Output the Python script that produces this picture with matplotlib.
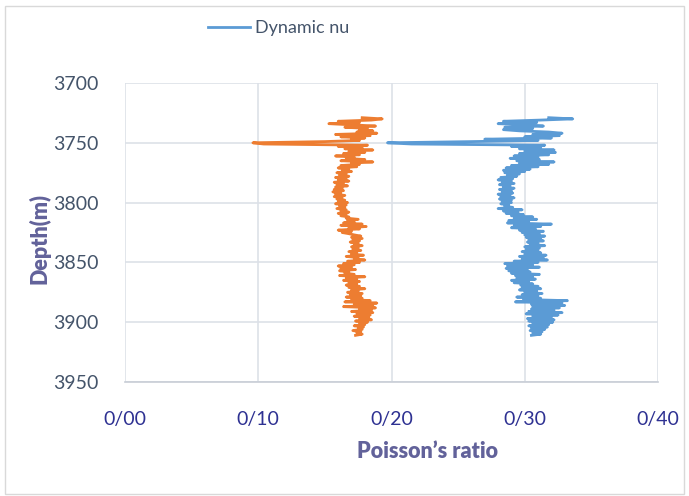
import numpy as np
import matplotlib
matplotlib.use("Agg")
import matplotlib.pyplot as plt
from matplotlib.patches import Rectangle

plt.rcParams['font.family'] = ['Lato', 'DejaVu Sans']

# Depth samples (m), one per metre
depth = np.arange(3729, 3912)

# Static Poisson's ratio (orange trace)
static_nu = [
    0.178, 0.193, 0.185, 0.160, 0.176, 0.153, 0.170, 0.188, 0.165, 0.182,
    0.176, 0.186, 0.174, 0.189, 0.158, 0.184, 0.162, 0.180, 0.170, 0.176,
    0.150, 0.096, 0.104, 0.182, 0.160, 0.178, 0.165, 0.186, 0.168, 0.180,
    0.164, 0.176, 0.158, 0.172, 0.166, 0.180, 0.162, 0.186, 0.170, 0.176,
    0.162, 0.174, 0.160, 0.168, 0.163, 0.170, 0.159, 0.166, 0.161, 0.168,
    0.158, 0.166, 0.160, 0.168, 0.157, 0.164, 0.159, 0.167, 0.158, 0.163,
    0.157, 0.164, 0.156, 0.162, 0.158, 0.165, 0.157, 0.163, 0.159, 0.165,
    0.160, 0.167, 0.158, 0.166, 0.161, 0.165, 0.159, 0.166, 0.162, 0.168,
    0.160, 0.166, 0.162, 0.168, 0.166, 0.175, 0.167, 0.172, 0.164, 0.178,
    0.162, 0.181, 0.168, 0.176, 0.160, 0.170, 0.163, 0.168, 0.172, 0.177,
    0.170, 0.178, 0.171, 0.176, 0.169, 0.175, 0.172, 0.178, 0.170, 0.175,
    0.171, 0.177, 0.168, 0.174, 0.170, 0.179, 0.166, 0.175, 0.172, 0.180,
    0.167, 0.176, 0.164, 0.172, 0.160, 0.170, 0.162, 0.173, 0.161, 0.168,
    0.165, 0.172, 0.161, 0.180, 0.166, 0.174, 0.164, 0.176, 0.168, 0.174,
    0.166, 0.176, 0.168, 0.180, 0.170, 0.175, 0.167, 0.178, 0.169, 0.177,
    0.166, 0.178, 0.170, 0.184, 0.165, 0.189, 0.172, 0.186, 0.164, 0.188,
    0.176, 0.185, 0.170, 0.186, 0.174, 0.184, 0.172, 0.183, 0.176, 0.185,
    0.173, 0.182, 0.176, 0.180, 0.172, 0.179, 0.175, 0.178, 0.171, 0.177,
    0.174, 0.178, 0.173,
]

# Dynamic Poisson's ratio (blue trace)
dynamic_nu = [
    0.318, 0.336, 0.312, 0.284, 0.309, 0.280, 0.301, 0.314, 0.285, 0.306,
    0.284, 0.296, 0.318, 0.328, 0.306, 0.326, 0.300, 0.320, 0.270, 0.310,
    0.260, 0.197, 0.215, 0.315, 0.290, 0.312, 0.296, 0.322, 0.300, 0.323,
    0.296, 0.318, 0.292, 0.310, 0.289, 0.311, 0.294, 0.322, 0.296, 0.318,
    0.290, 0.310, 0.286, 0.304, 0.284, 0.300, 0.285, 0.296, 0.287, 0.294,
    0.282, 0.291, 0.280, 0.290, 0.283, 0.292, 0.281, 0.289, 0.284, 0.292,
    0.281, 0.290, 0.283, 0.291, 0.280, 0.289, 0.282, 0.292, 0.281, 0.290,
    0.283, 0.290, 0.282, 0.288, 0.285, 0.291, 0.280, 0.298, 0.284, 0.295,
    0.286, 0.299, 0.290, 0.306, 0.292, 0.309, 0.288, 0.303, 0.287, 0.320,
    0.292, 0.312, 0.290, 0.308, 0.296, 0.314, 0.298, 0.311, 0.300, 0.315,
    0.301, 0.312, 0.303, 0.314, 0.302, 0.310, 0.304, 0.315, 0.300, 0.311,
    0.301, 0.310, 0.298, 0.312, 0.300, 0.316, 0.296, 0.314, 0.298, 0.317,
    0.292, 0.310, 0.285, 0.306, 0.287, 0.311, 0.286, 0.302, 0.288, 0.304,
    0.290, 0.311, 0.293, 0.306, 0.294, 0.308, 0.290, 0.303, 0.292, 0.306,
    0.297, 0.310, 0.298, 0.312, 0.296, 0.309, 0.300, 0.313, 0.298, 0.310,
    0.294, 0.312, 0.299, 0.332, 0.293, 0.328, 0.305, 0.330, 0.306, 0.326,
    0.305, 0.322, 0.303, 0.328, 0.301, 0.325, 0.306, 0.320, 0.302, 0.322,
    0.303, 0.321, 0.306, 0.318, 0.303, 0.317, 0.305, 0.315, 0.304, 0.313,
    0.306, 0.312, 0.305,
]

x_ticks = [0.0, 0.1, 0.2, 0.3, 0.4]
x_tick_labels = ['0/00', '0/10', '0/20', '0/30', '0/40']
y_ticks = [3700, 3750, 3800, 3850, 3900, 3950]

W, H = 689, 496
fig = plt.figure(figsize=(W / 100, H / 100), dpi=100)
fig.patches.append(Rectangle((5 / W, 1 - 494 / H), 679 / W, 488 / H,
                             transform=fig.transFigure, fill=False,
                             edgecolor='#D9D9D9', lw=1.0))

ax = fig.add_axes([125 / W, 1 - 382 / H, 533 / W, 299 / H])

ax.plot(static_nu, depth, color='#ED7D31', lw=2.0)
ax.plot(dynamic_nu, depth, color='#5B9BD5', lw=2.0, label='Dynamic nu')

ax.set_xlim(0, 0.4)
ax.set_ylim(3950, 3700)
ax.set_xticks(x_ticks)
ax.set_xticklabels(x_tick_labels)
ax.set_yticks(y_ticks)

ax.grid(True, color='#DDE1E8', lw=1.2)
ax.set_axisbelow(True)
for side in ['top', 'right', 'left']:
    ax.spines[side].set_visible(False)
ax.spines['bottom'].set_color('#C8CDD6')
ax.spines['bottom'].set_linewidth(1.2)

ax.tick_params(axis='both', length=0)
ax.tick_params(axis='y', labelsize=14, labelcolor='#44546A', pad=19)
ax.tick_params(axis='x', labelsize=14, labelcolor='#2E3192', pad=21)

ax.set_ylabel('Depth(m)', fontsize=15.5, fontweight='heavy', color='#62629A')
ax.yaxis.set_label_coords(-74 / 533, 0.48)
fig.text(427 / W, 1 - 452 / H, 'Poisson\u2019s ratio', fontsize=15.5,
         fontweight='heavy', color='#62629A', ha='center', va='center')

fig.legend(loc='center', bbox_to_anchor=(279 / W, 1 - 28 / H), frameon=False,
           fontsize=13, handlelength=2.3, handletextpad=0.3,
           labelcolor='#44546A')

fig.savefig('out.png', dpi=100)
